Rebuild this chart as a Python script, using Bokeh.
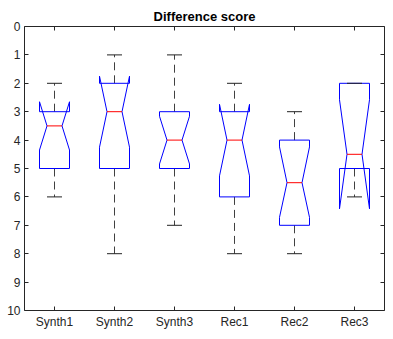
from bokeh.plotting import figure
from bokeh.models import Range1d, LinearAxis, FixedTicker
from bokeh.embed import file_html
from bokeh.resources import INLINE

# ---- data ----
categories = ["Synth1", "Synth2", "Synth3", "Rec1", "Rec2", "Rec3"]
whisker_min = [2, 1, 1, 2, 3, 2]
q1 = [3, 2, 3, 3, 4, 2]
median = [3.5, 3, 4, 4, 5.5, 4.5]
q3 = [5, 5, 5, 6, 7, 5]
whisker_max = [6, 8, 7, 8, 8, 6]
notch_lo = [2.65, 1.75, 3.16, 2.74, 4.24, 2.58]
notch_hi = [4.35, 4.25, 4.84, 5.26, 6.72, 6.42]
y_ticks = [0, 1, 2, 3, 4, 5, 6, 7, 8, 9, 10]
title_text = "Difference score"

# ---- styling ----
FONT = "Liberation Sans"
AX = "#262626"
HW = 0.25      # half box width
NW = 0.125     # half notch width
CW = 0.125     # half cap width

positions = list(range(1, len(categories) + 1))

p = figure(width=385, height=331, output_backend="svg", toolbar_location=None,
           x_range=Range1d(0.5, len(categories) + 0.5), y_range=Range1d(10, 0),
           min_border_left=24, min_border_right=1, min_border_top=26, min_border_bottom=16)

p.title.text = title_text
p.title.text_font = FONT
p.title.text_font_size = "13px"
p.title.text_font_style = "bold"
p.title.text_color = "#000000"
p.title.align = "center"
p.title.offset = 0
p.title.standoff = 5

p.xgrid.visible = False
p.ygrid.visible = False
p.outline_line_color = None
p.background_fill_color = "white"
p.border_fill_color = "white"

def style_axis(ax, show_labels, standoff=4):
    ax.axis_line_color = AX
    ax.axis_line_width = 1
    ax.major_tick_line_color = AX
    ax.major_tick_in = 4
    ax.major_tick_out = 0
    ax.minor_tick_line_color = None
    ax.major_label_text_font = FONT
    if show_labels:
        ax.major_label_text_color = AX
        ax.major_label_text_font_size = "12px"
        ax.major_label_standoff = standoff
    else:
        ax.major_label_text_color = None
        ax.major_label_text_font_size = "1px"
        ax.major_label_standoff = 0

xt = FixedTicker(ticks=positions)
yt = FixedTicker(ticks=y_ticks)

p.xaxis.ticker = xt
p.xaxis.major_label_overrides = {i: c for i, c in zip(positions, categories)}
style_axis(p.xaxis[0], True, 4)
p.yaxis.ticker = yt
style_axis(p.yaxis[0], True, 4)

top_ax = LinearAxis(ticker=FixedTicker(ticks=positions))
style_axis(top_ax, False)
p.add_layout(top_ax, "above")
right_ax = LinearAxis(ticker=FixedTicker(ticks=y_ticks))
style_axis(right_ax, False)
p.add_layout(right_ax, "right")

# whiskers
p.segment(x0=positions, y0=q3, x1=positions, y1=whisker_max,
          line_color="#404040", line_width=1, line_dash="8 5")
p.segment(x0=positions, y0=q1, x1=positions, y1=whisker_min,
          line_color="#404040", line_width=1, line_dash="8 5")

# notched boxes
xs, ys = [], []
for x, a, lo, m, hi, b in zip(positions, q1, notch_lo, median, notch_hi, q3):
    xs.append([x - HW, x - HW, x - NW, x - HW, x - HW, x + HW, x + HW, x + NW, x + HW, x + HW])
    ys.append([a, lo, m, hi, b, b, hi, m, lo, a])
p.patches(xs=xs, ys=ys, fill_color=None, line_color="#0000ff", line_width=1)

# caps
p.segment(x0=[x - CW for x in positions], y0=whisker_max,
          x1=[x + CW for x in positions], y1=whisker_max, line_color="#222222", line_width=1)
p.segment(x0=[x - CW for x in positions], y0=whisker_min,
          x1=[x + CW for x in positions], y1=whisker_min, line_color="#222222", line_width=1)

# medians
p.segment(x0=[x - NW for x in positions], y0=median,
          x1=[x + NW for x in positions], y1=median, line_color="#ff0000", line_width=1)

open("out.html", "w").write(file_html(p, INLINE))
